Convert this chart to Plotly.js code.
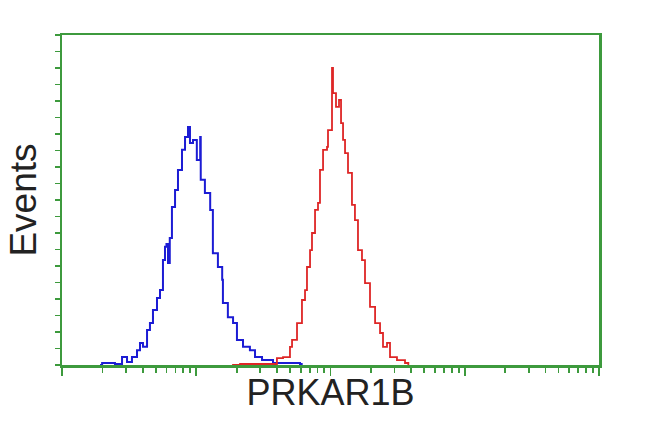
<!DOCTYPE html>
<html>
<head>
<meta charset="utf-8">
<script src="https://cdn.plot.ly/plotly-3.0.1.min.js"></script>
<style>html,body{margin:0;padding:0;background:#fff;}#chart{width:650px;height:432px;}</style>
</head>
<body>
<div id="chart"></div>
<script>
// Control (blue) histogram: fluorescence intensity vs events
const controlX = [1.92,1.99,2.48,2.80,3.05,3.32,3.62,3.81,4.01,4.30,4.52,4.76,5.10,5.37,5.65,5.85,6.00,6.16,6.35,6.59,6.95,7.31,7.83,8.25,8.68,8.98,9.46,10.1,10.7,10.8,11.6,12.7,13.3,14.5,15.6,15.8,17.2,18.8,20.1,22.3,25.1,27.4,30.9,37.3,59.3,61.0];
const controlY = [0,0.6,0.3,2.4,0.9,2.4,4.5,6.7,5.5,10.6,12.7,16.7,20.3,22.7,31.8,35.8,36.7,30.9,38.5,47.9,53.0,59.1,65.2,69.1,72.1,67.3,68.2,62.1,69.1,56.1,52.1,47.0,33.9,29.7,25.8,18.8,14.5,12.7,7.6,5.5,4.5,2.4,1.5,0.6,0.3,0];
// PRKAR1B (red) histogram
const sampleX = [18.5,21.2,30.9,39.9,44.3,49.9,51.7,56.3,61.3,64.6,66.8,70.4,72.8,76.7,80.7,83.5,88.0,94.2,95.8,102.6,104.4,109.9,115.7,119.8,124.0,128.3,135.0,144.5,152.1,160.2,171.6,180.7,196.9,214.8,233.9,246.1,263.6,277.5,312.7,358.9,380];
const sampleY = [0,0.3,0.3,2.1,2.4,5.5,7.6,12.7,19.7,22.7,29.7,34.8,40.0,47.0,49.1,59.1,65.2,66.1,71.2,90.0,82.4,78.2,80.3,73.3,68.2,64.2,58.2,48.5,43.9,34.8,31.8,24.8,17.6,12.7,9.7,5.5,6.7,2.4,1.5,0.6,0];
const xMajorTicks = [1,10,100,1000,10000];
const xMinorTicks = [2,3,4,5,6,7,8,9,20,30,40,50,60,70,80,90,200,300,400,500,600,700,800,900,2000,3000,4000,5000,6000,7000,8000,9000];
const yTicks = [0,5,10,15,20,25,30,35,40,45,50,55,60,65,70,75,80,85,90,95,100];

const green = '#3d9a3d';
const traces = [
  {x: controlX, y: controlY, type: 'scatter', mode: 'lines', line: {color: '#1c1cd4', width: 2, shape: 'hv'}, hoverinfo: 'skip'},
  {x: sampleX, y: sampleY, type: 'scatter', mode: 'lines', line: {color: '#de2626', width: 1.8, shape: 'hv'}, hoverinfo: 'skip'}
];
const layout = {
  width: 650, height: 432,
  margin: {l: 62, r: 51, t: 35, b: 67},
  paper_bgcolor: '#fff', plot_bgcolor: '#fff',
  showlegend: false,
  font: {family: 'Liberation Sans, Arial, sans-serif', color: '#222'},
  xaxis: {
    type: 'log', range: [0, 4],
    showgrid: false, zeroline: false,
    showline: true, mirror: true, linecolor: green, linewidth: 2.5,
    tickmode: 'array', tickvals: xMajorTicks, ticktext: xMajorTicks.map(() => ''),
    ticks: 'outside', ticklen: 8, tickwidth: 1.8, tickcolor: green,
    minor: {tickmode: 'array', tickvals: xMinorTicks, ticks: 'outside', ticklen: 5, tickwidth: 1.8, tickcolor: green, showgrid: false},
    title: {text: 'PRKAR1B', font: {size: 36, color: '#222'}, standoff: 3}
  },
  yaxis: {
    range: [0, 100],
    showgrid: false, zeroline: false,
    showline: true, mirror: true, linecolor: green, linewidth: 2.5,
    tickmode: 'array', tickvals: yTicks, ticktext: yTicks.map(() => ''),
    ticks: 'outside', ticklen: 5, tickwidth: 1.8, tickcolor: green,
    title: {text: 'Events', font: {size: 37, color: '#222'}, standoff: 4}
  }
};
Plotly.newPlot('chart', traces, layout, {staticPlot: true, displayModeBar: false});
</script>
</body>
</html>
